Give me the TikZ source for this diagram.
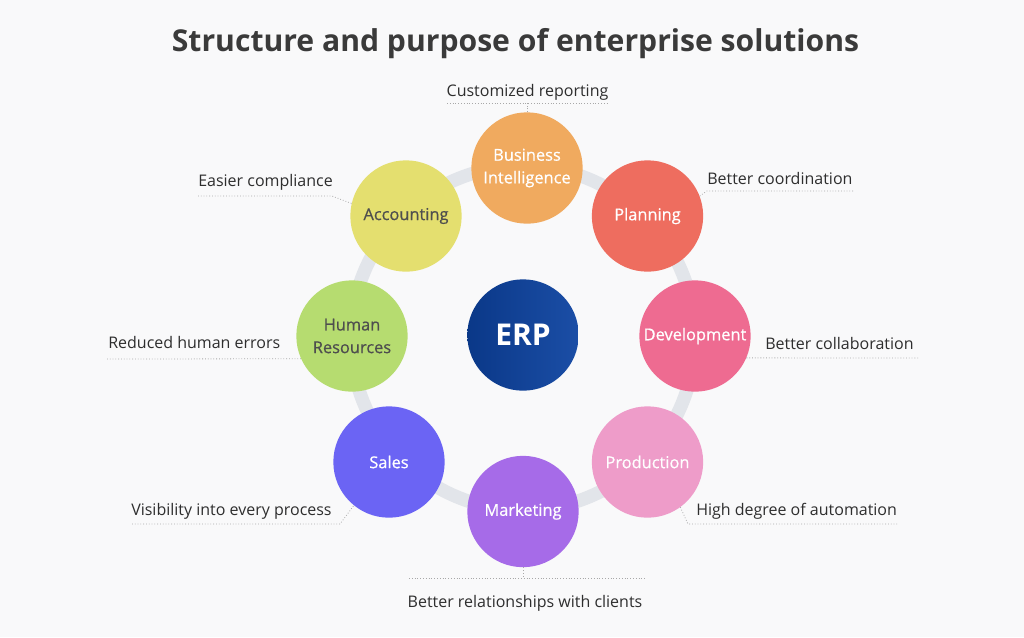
\documentclass[tikz,border=0pt]{standalone}
\usepackage{fontspec}
\setmainfont{Open Sans}
\newfontfamily\semibf{Open Sans}[FakeBold=0.6]
\usetikzlibrary{calc}
\definecolor{bgc}{HTML}{F9F9FA}
\definecolor{ringc}{HTML}{E2E5EA}
\definecolor{titlec}{HTML}{3A3A3A}
\definecolor{labc}{HTML}{2E2E2E}
\definecolor{dotc}{HTML}{A8A8A8}
\definecolor{darktxt}{HTML}{4E4E4E}
\definecolor{cBI}{HTML}{F0AA5F}
\definecolor{cPL}{HTML}{EE6D5F}
\definecolor{cDE}{HTML}{EE6B91}
\definecolor{cPR}{HTML}{EE9CC9}
\definecolor{cMK}{HTML}{A66BE8}
\definecolor{cSA}{HTML}{6B64F4}
\definecolor{cHR}{HTML}{B6DC70}
\definecolor{cAC}{HTML}{E4DF6F}
\definecolor{erpL}{HTML}{0A3888}
\definecolor{erpR}{HTML}{1B4EA6}
\tikzset{
  bub/.style={circle, minimum size=83.5pt, inner sep=0pt, align=center,
    font=\semibf\fontsize{12.3}{17}\selectfont, text=white},
  lab/.style={inner sep=0pt, font=\fontsize{12}{14}\selectfont, text=labc},
  dotline/.style={draw=dotc, line width=0.6pt, dash pattern=on 0.6pt off 1.5pt},
}
\begin{document}
\begin{tikzpicture}[x=0.75pt, y=-0.75pt]
\fill[bgc] (0,0) rectangle (1024,637);
\useasboundingbox (0,0) rectangle (1024,637);

\node[anchor=base, inner sep=0pt, font=\fontsize{22.6}{26}\selectfont\bfseries, text=titlec] (title) at (515.5,51) {Structure and purpose of enterprise solutions};

% ring
\coordinate (rc) at (523,338);
\draw[ringc, line width=10pt] (rc) circle[radius=129pt];

% ERP
\node[circle, minimum size=83.5pt, inner sep=0pt, left color=erpL, right color=erpR, text=white, font=\fontsize{22.5}{26}\selectfont\bfseries] (erp) at (523,335) {ERP};

% bubbles
\node[bub, fill=cBI] (bi) at (527,168) {Business\\Intelligence};
\node[bub, fill=cPL] (plan) at (647.5,216) {Planning};
\node[bub, fill=cDE] (dev) at (695,336) {Development};
\node[bub, fill=cPR] (prod) at (647.5,462) {Production};
\node[bub, fill=cMK] (mkt) at (523,511.5) {Marketing};
\node[bub, fill=cSA] (sales) at (389,462) {Sales};
\node[bub, fill=cHR, text=darktxt] (hr) at (352,336) {Human\\Resources};
\node[bub, fill=cAC, text=darktxt] (acc) at (406,216) {Accounting};

% labels
\node[lab, anchor=base] (lcr) at (527.5,96) {Customized reporting};
\node[lab, anchor=base west] (lec) at (198,186) {Easier compliance};
\node[lab, anchor=base west] (lbc) at (707,184) {Better coordination};
\node[lab, anchor=base west] (lrh) at (108,348) {Reduced human errors};
\node[lab, anchor=base west] (lcol) at (765,349) {Better collaboration};
\node[lab, anchor=base west] (lvis) at (131,515) {Visibility into every process};
\node[lab, anchor=base west] (lhd) at (696,515) {High degree of automation};
\node[lab, anchor=base] (lrel) at (525,607) {Better relationships with clients};

% leader coordinates
\coordinate (crL) at (447,103); \coordinate (crR) at (609,103);
\coordinate (ecL) at (198,196); \coordinate (ecR) at (332,196);
\coordinate (bcL) at (707,191); \coordinate (bcR) at (853,191);
\coordinate (rhL) at (107,359);
\coordinate (colR) at (920,358);
\coordinate (visL) at (132,524); \coordinate (visR) at (340,524);
\coordinate (hdL) at (688,524); \coordinate (hdR) at (898,524);
\coordinate (relL) at (409,578); \coordinate (relR) at (645,578);

% leaders
\draw[dotline] (crL) -- (crR);
\draw[dotline] (bi.north) -- (bi.north |- crL);
\draw[dotline] (ecL) -- (ecR) -- (acc.167);
\draw[dotline] (plan.21) -- (bcL) -- (bcR);
\draw[dotline] (rhL) -- (hr.204);
\draw[dotline] (dev.-23) -- (colR);
\draw[dotline] (visL) -- (visR) -- (sales.231);
\draw[dotline] (prod.-54) -- (hdL) -- (hdR);
\draw[dotline] (relL) -- (relR);
\draw[dotline] (mkt.south) -- (mkt.south |- relL);
\end{tikzpicture}
\end{document}
